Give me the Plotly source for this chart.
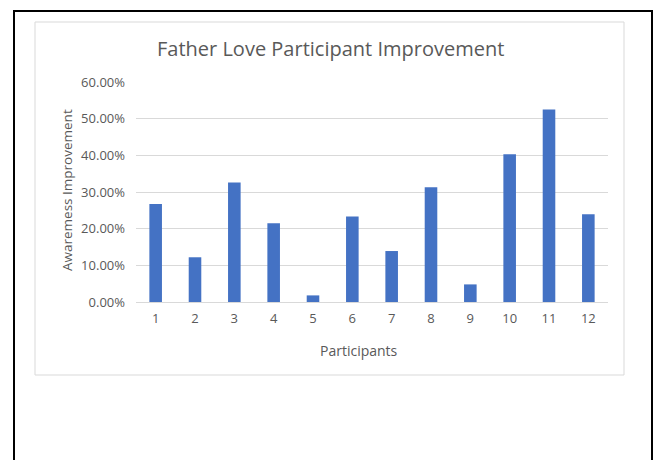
import plotly.graph_objects as go

participants = ["1", "2", "3", "4", "5", "6", "7", "8", "9", "10", "11", "12"]
improvement = [0.267, 0.122, 0.326, 0.215, 0.018, 0.233, 0.139, 0.313, 0.048, 0.403, 0.525, 0.239]
y_ticks = [0.0, 0.1, 0.2, 0.3, 0.4, 0.5, 0.6]
y_tick_labels = ["0.00%", "10.00%", "20.00%", "30.00%", "40.00%", "50.00%", "60.00%"]

W, H = 656, 460
L, R, T, B = 136, 608, 82, 302  # plot area in pixels

def px(x):
    return (x - L) / (R - L)

def py(y):
    return (B - y) / (B - T)

FONT = "Open Sans"
GREY = "#595959"

fig = go.Figure(go.Bar(
    x=participants, y=improvement,
    marker=dict(color="#4472C4", line=dict(width=0)),
    width=0.32,
))

fig.update_layout(
    width=W, height=H,
    margin=dict(l=L, r=W - R, t=T, b=H - B),
    paper_bgcolor="white", plot_bgcolor="white",
    showlegend=False,
    font=dict(family=FONT, size=12, color=GREY),
    xaxis=dict(type="category", showgrid=False, showline=False, zeroline=False,
               ticks="", tickfont=dict(size=13, color=GREY), ticklabelstandoff=7),
    yaxis=dict(range=[0, 0.6], tickvals=y_ticks, ticktext=y_tick_labels,
               showgrid=True, gridcolor="#d9d9d9", gridwidth=1,
               zeroline=True, zerolinecolor="#d9d9d9", zerolinewidth=1,
               showline=False, ticks="", tickfont=dict(size=13, color=GREY),
               ticklabelstandoff=10),
    shapes=[
        dict(type="rect", xref="paper", yref="paper",
             x0=px(14), x1=px(652), y0=py(475), y1=py(11),
             line=dict(color="black", width=2), fillcolor="rgba(0,0,0,0)", layer="below"),
        dict(type="rect", xref="paper", yref="paper",
             x0=px(35), x1=px(624), y0=py(375), y1=py(22),
             line=dict(color="#d9d9d9", width=1), fillcolor="rgba(0,0,0,0)", layer="below"),
    ],
    annotations=[
        dict(text="Father Love Participant Improvement", xref="paper", yref="paper",
             x=px(330), y=py(48), xanchor="center", yanchor="middle", showarrow=False,
             font=dict(family=FONT, size=20, color=GREY)),
        dict(text="Awaremess Improvement", xref="paper", yref="paper",
             x=px(67), y=py(190), xanchor="center", yanchor="middle", showarrow=False,
             textangle=-90, font=dict(family=FONT, size=13.5, color=GREY)),
        dict(text="Participants", xref="paper", yref="paper",
             x=px(359), y=py(350), xanchor="center", yanchor="middle", showarrow=False,
             font=dict(family=FONT, size=14, color=GREY)),
    ],
)

fig.write_html("out.html", config={"displayModeBar": False},
               post_script="document.body.style.margin='0';")
